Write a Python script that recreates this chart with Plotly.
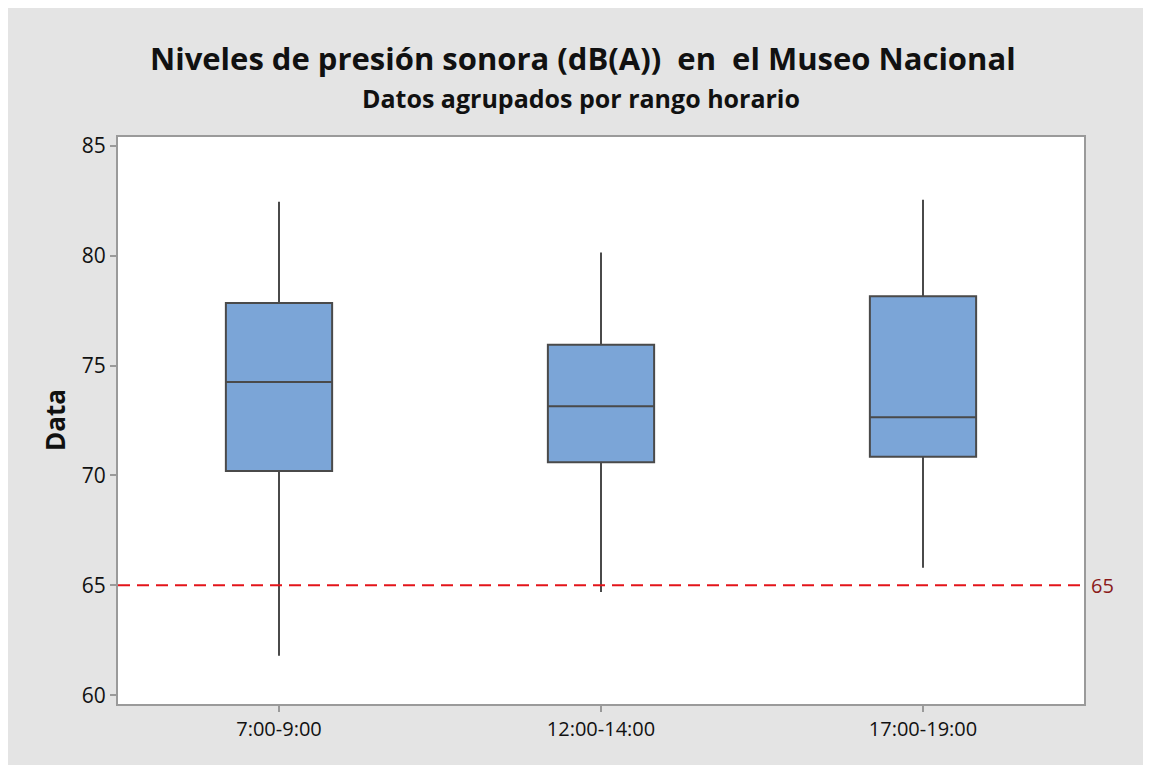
import plotly.graph_objects as go

categories = ["7:00-9:00", "12:00-14:00", "17:00-19:00"]
lower_whisker = [61.8, 64.7, 65.8]
q1_values = [70.2, 70.6, 70.85]
median_values = [74.25, 73.15, 72.65]
q3_values = [77.85, 75.95, 78.15]
upper_whisker = [82.45, 80.15, 82.55]
reference_level = 65
y_ticks = [60, 65, 70, 75, 80, 85]

# page offset from the browser body margin
OFF = 8
W, H = 1151, 765
L, T = 118 - OFF, 137 - OFF
R = W - (1084 - OFF)
B = H - (704 - OFF)
pw, ph = W - L - R, H - T - B

def px_x(x):
    return (x - OFF - L) / pw

def px_y(y):
    return (H - B - (y - OFF)) / ph

fig = go.Figure()
fig.add_trace(go.Box(
    x=categories,
    q1=q1_values,
    median=median_values,
    q3=q3_values,
    lowerfence=lower_whisker,
    upperfence=upper_whisker,
    width=0.33,
    fillcolor="#7ba5d7",
    line=dict(color="#4a4a4a", width=2),
    whiskerwidth=0,
    boxpoints=False,
    showlegend=False,
))

fig.add_hline(y=reference_level, line=dict(color="#e3141a", width=2, dash="12px,7px"))

font_family = "Open Sans, Noto Sans, DejaVu Sans, sans-serif"

fig.update_layout(
    width=W, height=H,
    margin=dict(l=L, r=R, t=T, b=B),
    paper_bgcolor="#e4e4e4",
    plot_bgcolor="#ffffff",
    font=dict(family=font_family, color="#111111"),
    xaxis=dict(
        type="category",
        range=[-0.5, 2.5],
        showline=True, linecolor="#9a9a9a", linewidth=2, mirror=True,
        ticks="outside", tickcolor="#9a9a9a", ticklen=6, tickwidth=1.5,
        showgrid=False, zeroline=False,
        tickfont=dict(size=20, family=font_family, color="#111111"),
    ),
    yaxis=dict(
        range=[59.6, 85.4],
        tickvals=y_ticks,
        showline=True, linecolor="#9a9a9a", linewidth=2, mirror=True,
        ticks="outside", tickcolor="#9a9a9a", ticklen=6, tickwidth=1.5,
        showgrid=False, zeroline=False,
        tickfont=dict(size=21, family=font_family, color="#111111"),
    ),
    annotations=[
        dict(text="<b>Niveles de presión sonora (dB(A))  en  el Museo Nacional</b>",
             xref="paper", yref="paper", x=px_x(583), y=px_y(58),
             xanchor="center", yanchor="middle", showarrow=False,
             font=dict(size=31, family=font_family, color="#111111")),
        dict(text="<b>Datos agrupados por rango horario</b>",
             xref="paper", yref="paper", x=px_x(581), y=px_y(98),
             xanchor="center", yanchor="middle", showarrow=False,
             font=dict(size=25, family=font_family, color="#111111")),
        dict(text="<b>Data</b>", textangle=-90,
             xref="paper", yref="paper", x=px_x(55), y=px_y(420),
             xanchor="center", yanchor="middle", showarrow=False,
             font=dict(size=26, family=font_family, color="#111111")),
        dict(text=str(reference_level),
             xref="paper", yref="y", x=1.0, y=reference_level,
             xanchor="left", yanchor="middle", xshift=5, showarrow=False,
             font=dict(size=20, family=font_family, color="#8b1a1a")),
    ],
)

fig.write_html("out.html")
